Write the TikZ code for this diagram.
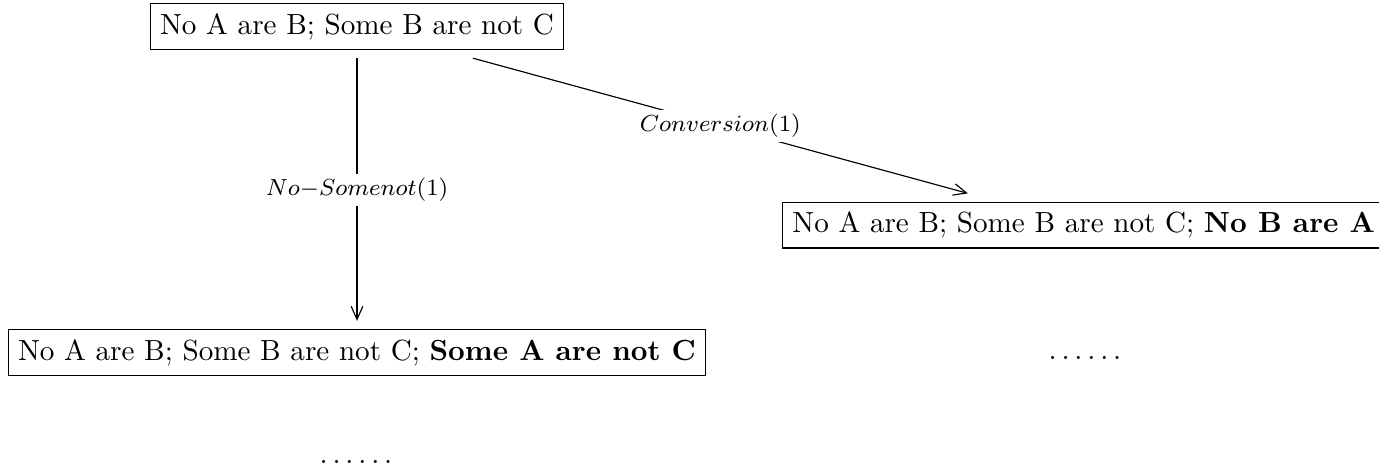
\documentclass[tikz,border=0pt]{standalone}
\usetikzlibrary{arrows.meta}
\begin{document}
\begin{tikzpicture}[x=0.3436pt,y=-0.3436pt,
  box/.style={draw, inner sep=3.33pt, outer sep=3pt},
  lbl/.style={fill=white, font=\footnotesize, inner sep=1.5pt},
  dots/.style={inner sep=0pt},
  edge/.style={-{Straight Barb[length=4.5pt,width=4pt]}, line width=0.4pt}]
\useasboundingbox (0,0) rectangle (1379,470);
\node[box] (root) at (357,26.5) {No A are B; Some B are not C};
\node[box, anchor=west] (conv) at (774,225) {No A are B; Some B are not C; \textbf{No B are A}};
\node[box] (nosn) at (357,352.5) {No A are B; Some B are not C; \textbf{Some A are not C}};
\node[dots] (d1) at (1085,358) {$\ldots\ldots$};
\node[dots] (d2) at (356,462) {$\ldots\ldots$};
\draw[edge] (root) -- node[lbl] {$No{-}Somenot(1)$} (nosn);
\draw[edge] (root) -- node[lbl] {$Conversion(1)$} (conv);
\end{tikzpicture}
\end{document}
